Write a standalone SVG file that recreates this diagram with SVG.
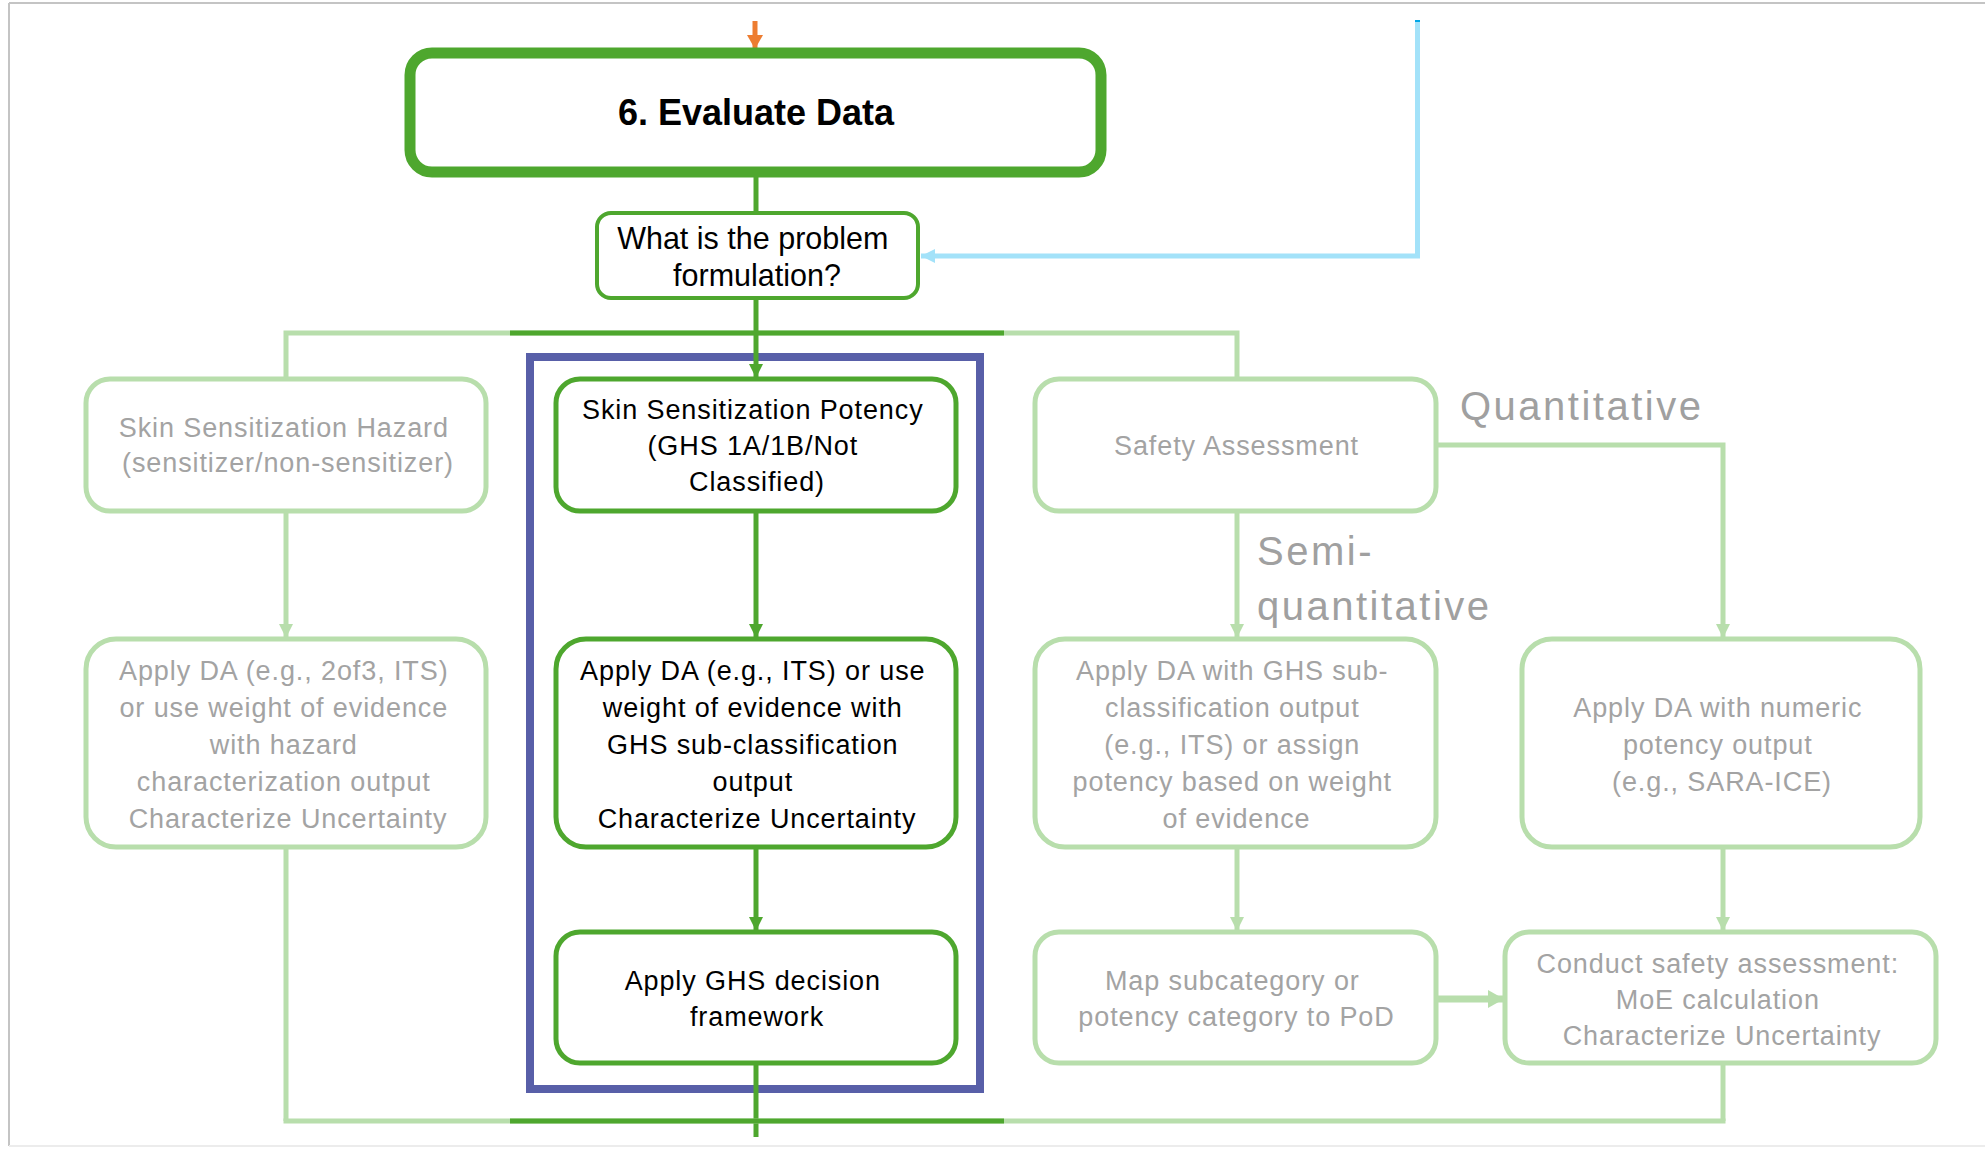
<svg xmlns="http://www.w3.org/2000/svg" width="1985" height="1150" viewBox="0 0 1985 1150">
  <style>
    .bg { fill: #ffffff; }
    .frame { stroke: #c4c4c4; stroke-width: 2; fill: none; }
    .box-dark { fill: #ffffff; stroke: #4ea72e; stroke-width: 5; }
    .box-light { fill: #ffffff; stroke: #b8deac; stroke-width: 5; }
    .txt { font-family: "Liberation Sans", Arial, sans-serif; font-size: 27px; letter-spacing: 0.9px; text-anchor: middle; }
    .dark-t { fill: #000000; }
    .light-t { fill: #a3a3a3; }
    .label { font-family: "Liberation Sans", Arial, sans-serif; font-size: 40px; letter-spacing: 2.5px; fill: #a0a0a0; }
    .c-dark { stroke: #4ea72e; stroke-width: 5; fill: none; }
    .c-light { stroke: #b8deac; stroke-width: 5; fill: none; }
    .c-blue { stroke: #a3e2f9; stroke-width: 5; fill: none; }
  </style>
  <defs>
    <marker id="ah-dark" markerUnits="userSpaceOnUse" viewBox="0 0 14 14" refX="14" refY="7" markerWidth="14" markerHeight="14" orient="auto">
      <path d="M0,0 L14,7 L0,14 z" fill="#4ea72e"/>
    </marker>
    <marker id="ah-light" markerUnits="userSpaceOnUse" viewBox="0 0 14 14" refX="14" refY="7" markerWidth="14" markerHeight="14" orient="auto">
      <path d="M0,0 L14,7 L0,14 z" fill="#b8deac"/>
    </marker>
    <marker id="ah-light-big" markerUnits="userSpaceOnUse" viewBox="0 0 16 18" refX="16" refY="9" markerWidth="16" markerHeight="18" orient="auto">
      <path d="M0,0 L16,9 L0,18 z" fill="#b8deac"/>
    </marker>
    <marker id="ah-blue" markerUnits="userSpaceOnUse" viewBox="0 0 14 14" refX="14" refY="7" markerWidth="14" markerHeight="14" orient="auto">
      <path d="M0,0 L14,7 L0,14 z" fill="#a3e2f9"/>
    </marker>
    <marker id="ah-orange" markerUnits="userSpaceOnUse" viewBox="0 0 14 16" refX="14" refY="8" markerWidth="14" markerHeight="16" orient="auto">
      <path d="M0,0 L14,8 L0,16 z" fill="#ed7d31"/>
    </marker>
  </defs>

  <rect class="bg" x="0" y="0" width="1985" height="1150"/>
  <g id="frame">
    <line class="frame" x1="9" y1="3" x2="1985" y2="3"/>
    <line class="frame" x1="9" y1="3" x2="9" y2="1146"/>
    <line x1="9" y1="1146" x2="1985" y2="1146" stroke="#ececec" stroke-width="2"/>
  </g>

  <g id="highlight">
    <rect x="530" y="357" width="450" height="732" fill="none" stroke="#585fa8" stroke-width="8"/>
  </g>

  <g id="connectors">
    <line x1="755" y1="21" x2="755" y2="49" stroke="#ed7d31" stroke-width="5" marker-end="url(#ah-orange)"/>
    <rect x="1415" y="20" width="5" height="3" fill="#00a6e6"/>
    <path class="c-blue" d="M1417.5,22 L1417.5,256 L921,256" marker-end="url(#ah-blue)"/>
    <line class="c-dark" x1="756" y1="177" x2="756" y2="211"/>
    <path class="c-light" d="M286,379 L286,333 L1237,333 L1237,379"/>
    <line class="c-dark" x1="510" y1="333" x2="1004" y2="333"/>
    <line class="c-dark" x1="756" y1="300" x2="756" y2="378" marker-end="url(#ah-dark)"/>
    <line class="c-light" x1="286" y1="511" x2="286" y2="638" marker-end="url(#ah-light)"/>
    <line class="c-light" x1="286" y1="847" x2="286" y2="1121"/>
    <line class="c-dark" x1="756" y1="511" x2="756" y2="638" marker-end="url(#ah-dark)"/>
    <line class="c-dark" x1="756" y1="847" x2="756" y2="931" marker-end="url(#ah-dark)"/>
    <line class="c-dark" x1="756" y1="1063" x2="756" y2="1137"/>
    <line class="c-light" x1="1237" y1="511" x2="1237" y2="638" marker-end="url(#ah-light)"/>
    <path class="c-light" d="M1436,445 L1723,445 L1723,638" marker-end="url(#ah-light)"/>
    <line class="c-light" x1="1237" y1="847" x2="1237" y2="931" marker-end="url(#ah-light)"/>
    <line class="c-light" x1="1723" y1="847" x2="1723" y2="931" marker-end="url(#ah-light)"/>
    <line x1="1436" y1="999" x2="1504" y2="999" stroke="#b8deac" stroke-width="7" marker-end="url(#ah-light-big)"/>
    <line class="c-light" x1="1723" y1="1063" x2="1723" y2="1121"/>
    <line class="c-light" x1="283.5" y1="1121" x2="1725.5" y2="1121"/>
    <line class="c-dark" x1="510" y1="1121" x2="1004" y2="1121"/>
    <text class="label" x="1460" y="420">Quantitative</text>
    <text class="label" x="1257" y="565">Semi-</text>
    <text class="label" x="1257" y="620">quantitative</text>
  </g>

  <g id="evaluate-data">
    <rect x="410" y="53" width="691" height="119" rx="22" fill="#ffffff" stroke="#4ea72e" stroke-width="11"/>
    <text x="756" y="125" font-family="'Liberation Sans', Arial, sans-serif" font-size="36" font-weight="bold" text-anchor="middle" fill="#000">6. Evaluate Data</text>
  </g>

  <g id="problem-formulation">
    <rect x="597" y="213" width="321" height="85" rx="14" fill="#ffffff" stroke="#4ea72e" stroke-width="4"/>
    <text font-family="'Liberation Sans', Arial, sans-serif" font-size="30.5" text-anchor="middle" fill="#000">
      <tspan x="757" y="249">What is the problem</tspan>
      <tspan x="757" y="286">formulation?</tspan>
    </text>
  </g>

  <g id="hazard">
    <rect class="box-light" x="86" y="379" width="400" height="132" rx="24"/>
    <text class="txt light-t">
      <tspan x="288" y="437">Skin Sensitization Hazard</tspan>
      <tspan x="288" y="472">(sensitizer/non-sensitizer)</tspan>
    </text>
  </g>

  <g id="potency">
    <rect class="box-dark" x="556" y="379" width="400" height="132" rx="24"/>
    <text class="txt dark-t">
      <tspan x="757" y="419">Skin Sensitization Potency</tspan>
      <tspan x="757" y="455">(GHS 1A/1B/Not</tspan>
      <tspan x="757" y="491">Classified)</tspan>
    </text>
  </g>

  <g id="safety-assessment">
    <rect class="box-light" x="1035" y="379" width="401" height="132" rx="24"/>
    <text class="txt light-t" x="1236.5" y="455">Safety Assessment</text>
  </g>

  <g id="hazard-da">
    <rect class="box-light" x="86" y="639" width="400" height="208" rx="30"/>
    <text class="txt light-t">
      <tspan x="288" y="680">Apply DA (e.g., 2of3, ITS)</tspan>
      <tspan x="288" y="717">or use weight of evidence</tspan>
      <tspan x="288" y="754">with hazard</tspan>
      <tspan x="288" y="791">characterization output</tspan>
      <tspan x="288" y="828">Characterize Uncertainty</tspan>
    </text>
  </g>

  <g id="potency-da">
    <rect class="box-dark" x="556" y="639" width="400" height="208" rx="30"/>
    <text class="txt dark-t">
      <tspan x="757" y="680">Apply DA (e.g., ITS) or use</tspan>
      <tspan x="757" y="717">weight of evidence with</tspan>
      <tspan x="757" y="754">GHS sub-classification</tspan>
      <tspan x="757" y="791">output</tspan>
      <tspan x="757" y="828">Characterize Uncertainty</tspan>
    </text>
  </g>

  <g id="semi-da">
    <rect class="box-light" x="1035" y="639" width="401" height="208" rx="30"/>
    <text class="txt light-t">
      <tspan x="1236.5" y="680">Apply DA with GHS sub-</tspan>
      <tspan x="1236.5" y="717">classification output</tspan>
      <tspan x="1236.5" y="754">(e.g., ITS) or assign</tspan>
      <tspan x="1236.5" y="791">potency based on weight</tspan>
      <tspan x="1236.5" y="828">of evidence</tspan>
    </text>
  </g>

  <g id="quant-da">
    <rect class="box-light" x="1522" y="639" width="398" height="208" rx="30"/>
    <text class="txt light-t">
      <tspan x="1722" y="717">Apply DA with numeric</tspan>
      <tspan x="1722" y="754">potency output</tspan>
      <tspan x="1722" y="791">(e.g., SARA-ICE)</tspan>
    </text>
  </g>

  <g id="ghs-framework">
    <rect class="box-dark" x="556" y="932" width="400" height="131" rx="24"/>
    <text class="txt dark-t">
      <tspan x="757" y="990">Apply GHS decision</tspan>
      <tspan x="757" y="1026">framework</tspan>
    </text>
  </g>

  <g id="map-pod">
    <rect class="box-light" x="1035" y="932" width="401" height="131" rx="24"/>
    <text class="txt light-t">
      <tspan x="1236.5" y="990">Map subcategory or</tspan>
      <tspan x="1236.5" y="1026">potency category to PoD</tspan>
    </text>
  </g>

  <g id="conduct-safety">
    <rect class="box-light" x="1505" y="932" width="431" height="131" rx="24"/>
    <text class="txt light-t">
      <tspan x="1722" y="973">Conduct safety assessment:</tspan>
      <tspan x="1722" y="1009">MoE calculation</tspan>
      <tspan x="1722" y="1045">Characterize Uncertainty</tspan>
    </text>
  </g>
</svg>
